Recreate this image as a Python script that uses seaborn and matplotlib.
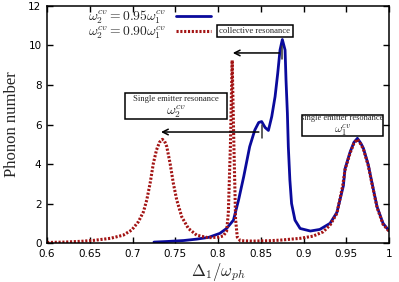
import matplotlib
matplotlib.use("Agg")
import matplotlib.pyplot as plt
from matplotlib.patches import Rectangle
import seaborn as sns
import pandas as pd

# ---- data ----
blue_x = [0.725, 0.74, 0.76, 0.775, 0.789, 0.802, 0.810, 0.818, 0.824, 0.830,
          0.837, 0.843, 0.8475, 0.851, 0.855, 0.8589, 0.8628, 0.8667, 0.8698, 0.8725,
          0.8752, 0.8784, 0.8795, 0.8811, 0.8822, 0.884, 0.886, 0.890, 0.896, 0.908,
          0.919, 0.931, 0.939, 0.9466, 0.9485, 0.9544, 0.959, 0.963, 0.967, 0.970,
          0.9758, 0.9798, 0.986, 0.993, 1.0]
blue_y = [0.05, 0.08, 0.13, 0.20, 0.29, 0.49, 0.74, 1.16, 2.18, 3.36,
          4.88, 5.72, 6.10, 6.15, 5.85, 5.70, 6.40, 7.41, 8.59, 9.77,
          10.3, 9.77, 8.25, 6.57, 4.88, 3.2, 2.0, 1.16, 0.74, 0.61,
          0.69, 1.0, 1.55, 2.9, 3.75, 4.6, 5.1, 5.3, 5.05, 4.8,
          3.95, 3.1, 1.84, 1.0, 0.62]

red_x = [0.600, 0.620, 0.640, 0.655, 0.674, 0.689, 0.699, 0.7068, 0.7127, 0.7166,
         0.7205, 0.7243, 0.728, 0.7315, 0.7349, 0.7375, 0.740, 0.7439, 0.7477, 0.7517,
         0.7575, 0.7653, 0.775, 0.7887, 0.800, 0.806, 0.810, 0.812, 0.8145, 0.8165,
         0.8185, 0.8205, 0.8225, 0.826, 0.84, 0.86, 0.873, 0.896, 0.911, 0.923,
         0.931, 0.939, 0.9458, 0.9485, 0.9544, 0.959, 0.963, 0.967, 0.970, 0.9758,
         0.9798, 0.986, 0.993, 1.0]
red_y = [0.03, 0.05, 0.09, 0.14, 0.24, 0.40, 0.66, 1.08, 1.58, 2.18,
         3.02, 4.03, 4.71, 5.10, 5.25, 5.15, 4.88, 4.03, 3.02, 2.18,
         1.33, 0.74, 0.40, 0.27, 0.30, 0.36, 0.6, 1.5, 5.0, 9.25,
         5.0, 1.2, 0.3, 0.12, 0.10, 0.12, 0.15, 0.24, 0.35, 0.57,
         0.91, 1.5, 2.9, 3.7, 4.55, 5.05, 5.25, 5.0, 4.75, 3.9,
         3.05, 1.8, 0.95, 0.6]

series_labels = [r"$\omega_2^{cv} = 0.95\omega_1^{cv}$",
                 r"$\omega_2^{cv} = 0.90\omega_1^{cv}$"]
x_ticks = [0.6, 0.65, 0.7, 0.75, 0.8, 0.85, 0.9, 0.95, 1.0]
x_ticklabels = ["0.6", "0.65", "0.7", "0.75", "0.8", "0.85", "0.9", "0.95", "1"]
y_ticks = [0, 2, 4, 6, 8, 10, 12]

blue_df = pd.DataFrame({"x": blue_x, "y": blue_y})
red_df = pd.DataFrame({"x": red_x, "y": red_y})

sns.set_theme(style="ticks")
plt.rcParams["font.family"] = ["DejaVu Sans"]
plt.rcParams["mathtext.fontset"] = "cm"

fig = plt.figure(figsize=(3.99, 2.82), dpi=100)
ax = fig.add_axes([0.118, 0.138, 0.857, 0.841])

BLUE = "#0a0a9c"
RED = "#a31414"

sns.lineplot(data=blue_df, x="x", y="y", ax=ax, color=BLUE, linewidth=2.0,
             estimator=None, sort=False, label=series_labels[0])
sns.lineplot(data=red_df, x="x", y="y", ax=ax, color=RED, linewidth=2.2,
             estimator=None, sort=False, label=series_labels[1])
ax.lines[1].set_linestyle((0, (0.7, 0.55)))

ax.set_xlim(0.6, 1.0)
ax.set_ylim(0, 12)
ax.set_xticks(x_ticks)
ax.set_xticklabels(x_ticklabels)
ax.set_yticks(y_ticks)
ax.tick_params(direction="in", top=True, right=True, length=4, width=1,
               labelsize=7.5, pad=4, colors="black")
ax.tick_params(axis="x", labeltop=False)
ax.tick_params(axis="y", labelright=False)
for s in ax.spines.values():
    s.set_visible(True)
    s.set_linewidth(1.1)
    s.set_color("black")

ax.set_xlabel(r"$\Delta_1/\omega_{ph}$", fontsize=12, labelpad=2)
ax.set_ylabel("Phonon number", fontsize=12, family="Liberation Serif", labelpad=6)

leg = ax.legend(loc="upper right", bbox_to_anchor=(0.508, 1.03), frameon=False,
                markerfirst=False, fontsize=9.8, handlelength=2.57,
                handletextpad=0.73, labelspacing=-0.12, borderpad=0.2)

serif = "Liberation Serif"


def boxed(x0, x1, y0, y1, lines):
    ax.add_patch(Rectangle((x0, y0), x1 - x0, y1 - y0, transform=ax.transAxes,
                           fc="white", ec="black", lw=1.1, zorder=5))
    for (yy, txt, fs, fam) in lines:
        ax.text((x0 + x1) / 2, yy, txt, transform=ax.transAxes, fontsize=fs,
                family=fam, ha="center", va="center", zorder=6)


boxed(0.497, 0.719, 0.869, 0.920,
      [(0.8945, "collective resonance", 6.2, serif)])
boxed(0.228, 0.526, 0.523, 0.633,
      [(0.606, "Single emitter resonance", 6.2, serif),
       (0.556, r"$\omega_2^{cv}$", 9.8, "DejaVu Sans")])
boxed(0.7456, 0.982, 0.450, 0.542,
      [(0.527, "single emitter resonance", 6.0, serif),
       (0.476, r"$\omega_1^{cv}$", 8.4, "DejaVu Sans")])

arrow = dict(arrowstyle="->", color="black", lw=1.1, mutation_scale=10)
ax.annotate("", xy=(0.814, 9.62), xytext=(0.8749, 9.62), arrowprops=arrow)
ax.plot([0.8749, 0.8749], [9.3, 9.95], color="#333333", lw=1.1)
ax.annotate("", xy=(0.730, 5.62), xytext=(0.851, 5.62), arrowprops=arrow)
ax.plot([0.851, 0.851], [5.3, 5.95], color="#333333", lw=1.1)

fig.savefig("out.png", dpi=100)
